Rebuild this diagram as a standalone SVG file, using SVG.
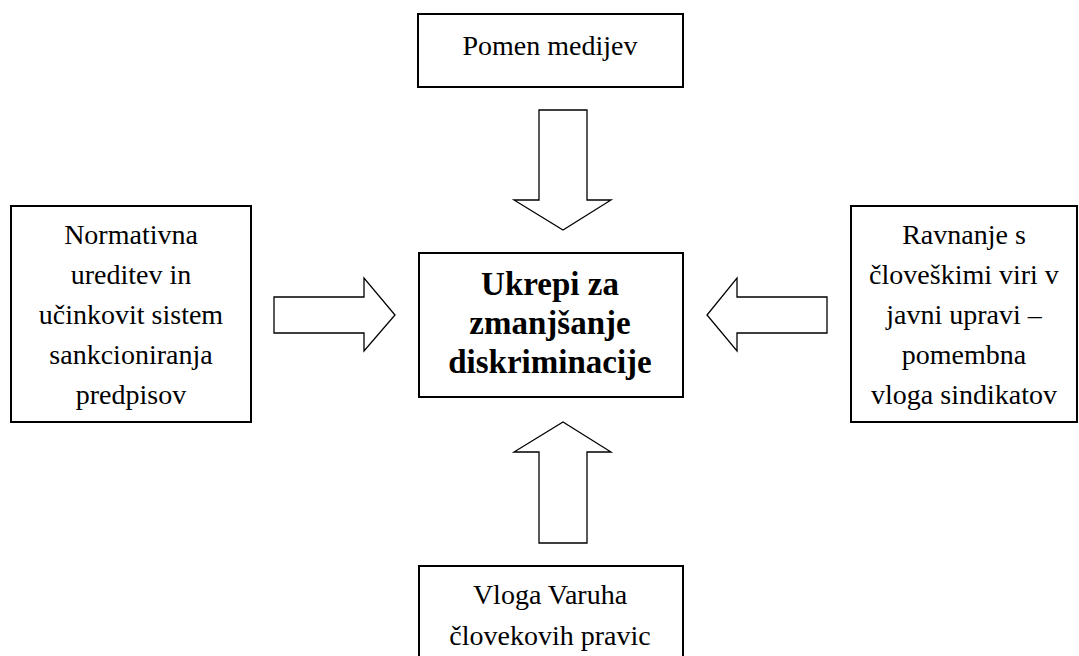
<svg xmlns="http://www.w3.org/2000/svg" width="1079" height="656" viewBox="0 0 1079 656">
  <style>
    .box { fill: #ffffff; stroke: #000000; stroke-width: 2; }
    .arrow { fill: #ffffff; stroke: #000000; stroke-width: 1.3; stroke-linejoin: miter; }
    text { font-family: 'Liberation Serif', 'Times New Roman', Times, 'DejaVu Serif', serif; fill: #000000; text-anchor: middle; }
    .t { font-size: 28px; }
    .tb { font-size: 33px; font-weight: bold; }
  </style>
  <rect width="1079" height="656" fill="#ffffff"/>

  <g id="top">
    <rect class="box" x="418" y="14" width="265" height="73"/>
    <text class="t" x="550" y="55">Pomen medijev</text>
  </g>

  <g id="left">
    <rect class="box" x="11" y="206" width="240" height="216"/>
    <text class="t" x="131" y="244">Normativna</text>
    <text class="t" x="131" y="284">ureditev in</text>
    <text class="t" x="131" y="324">učinkovit sistem</text>
    <text class="t" x="131" y="364">sankcioniranja</text>
    <text class="t" x="131" y="404">predpisov</text>
  </g>

  <g id="center">
    <rect class="box" x="419" y="253" width="264" height="144"/>
    <text class="tb" x="550" y="295">Ukrepi za</text>
    <text class="tb" x="550" y="334">zmanjšanje</text>
    <text class="tb" x="550" y="373">diskriminacije</text>
  </g>

  <g id="right">
    <rect class="box" x="851" y="206" width="226" height="216"/>
    <text class="t" x="964" y="244">Ravnanje s</text>
    <text class="t" x="964" y="284">človeškimi viri v</text>
    <text class="t" x="964" y="324">javni upravi –</text>
    <text class="t" x="964" y="364">pomembna</text>
    <text class="t" x="964" y="404">vloga sindikatov</text>
  </g>

  <g id="bottom">
    <rect class="box" x="419" y="566" width="264" height="100"/>
    <text class="t" x="550" y="604">Vloga Varuha</text>
    <text class="t" x="550" y="645">človekovih pravic</text>
  </g>

  <g id="connectors">
    <!-- block arrows pointing into the central box -->
    <polygon class="arrow" points="539,110 587,110 587,200 611,200 563,230 514,200 539,200"/>
    <polygon class="arrow" points="274,297 364,297 364,278 395,315 364,351 364,333 274,333"/>
    <polygon class="arrow" points="827,297 737,297 737,278 707,315 737,351 737,333 827,333"/>
    <polygon class="arrow" points="539,543 587,543 587,452 611,452 563,422 514,452 539,452"/>
  </g>
</svg>
